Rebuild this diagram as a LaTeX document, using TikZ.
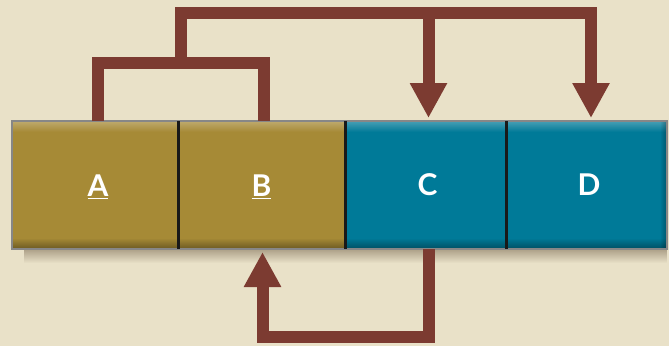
\documentclass[tikz,border=0pt]{standalone}
\usepackage{fontspec}
\setmainfont{Lato}
\usetikzlibrary{arrows.meta,calc}
\definecolor{bg}{RGB}{233,225,200}
\definecolor{gold}{RGB}{166,138,54}
\definecolor{teal}{RGB}{0,122,152}
\definecolor{brown}{RGB}{124,59,49}
\definecolor{shadow}{RGB}{165,152,128}
\definecolor{rim}{RGB}{135,135,135}
\tikzset{
  cell/.style={minimum width=#1, minimum height=128pt, inner sep=0pt, outer sep=0pt,
    text=white, font=\fontsize{30}{30}\selectfont\bfseries},
  goldcell/.style={cell=#1, fill=gold},
  tealcell/.style={cell=#1, fill=teal},
  lbl/.style={text=white, inner sep=0pt, font=\fontsize{30}{30}\selectfont\bfseries},
  conn/.style={draw=brown, line width=12pt, line join=miter},
  arr/.style={conn, -{Triangle[width=35pt,length=35pt]}},
  divider/.style={draw=black!90, line width=3pt}
}
\begin{document}
\begin{tikzpicture}[x=1pt,y=-1pt]
\fill[bg] (0,0) rectangle (669,346);
\useasboundingbox (0,0) rectangle (669,346);
% shadow
\foreach \i in {0,...,13}
  \fill[shadow, opacity={0.9*(1-\i/14)}] (24,249+\i) rectangle (667,250+\i);
% cells
\node[goldcell=166pt] (A) at (95,185) {};
\node[goldcell=167pt] (B) at (261.5,185) {};
\node[tealcell=161pt] (C) at (425.5,185) {};
\node[tealcell=161pt] (D) at (586.5,185) {};
% bevel highlights and shades
\foreach \i in {0,...,10}
  \fill[white, opacity={0.28*(1-\i/11)}] (12,121+\i) rectangle (667,122+\i);
\foreach \i in {0,...,9}
  \fill[black, opacity={0.32*(1-\i/10)}] (12,248-\i) rectangle (667,249-\i);
\foreach \i in {0,...,5}
  \fill[black, opacity={0.25*(1-\i/6)}] (666-\i,121) rectangle (667-\i,249);
% labels
\node[lbl] (lA) at ([xshift=3pt,yshift=-2pt]A.center) {\underline{A}};
\node[lbl] (lB) at ([yshift=-2pt]B.center) {\underline{B}};
\node[lbl] (lC) at ([xshift=2pt]C.center) {C};
\node[lbl] (lD) at ([xshift=2.5pt]D.center) {D};
\draw[rim, line width=1.5pt] (A.north west) rectangle (D.south east);
\draw[divider] (A.north east) -- (A.south east);
\draw[divider] (B.north east) -- (B.south east);
\draw[divider] (C.north east) -- (C.south east);
% connectors
\coordinate (j) at (181,63);
\coordinate (t) at (181,13);
\coordinate (cin) at ([xshift=3pt,yshift=3pt]C.north);
\draw[conn] ([xshift=3pt]A.north) -- ++(0,-58) -| ([xshift=2.5pt]B.north);
\draw[arr] (j) -- (t) -| ([xshift=4.5pt,yshift=3pt]D.north);
\draw[arr] (t -| cin) -- (cin);
\draw[arr] ([xshift=3pt]C.south) -- ++(0,87.5) -| ([xshift=1pt,yshift=-3pt]B.south);
\end{tikzpicture}
\end{document}
